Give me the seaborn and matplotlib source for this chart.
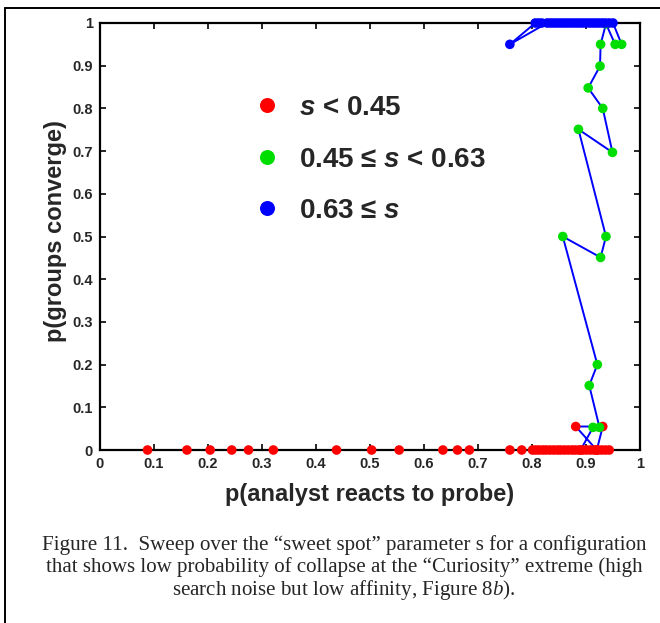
import numpy as np
import pandas as pd
import seaborn as sns
import matplotlib.pyplot as plt
from matplotlib.lines import Line2D

# sweep over s, points in sweep order (low s -> high s)
red_x = [0.088, 0.161, 0.204, 0.244, 0.275, 0.321, 0.438, 0.503, 0.554, 0.635,
         0.662, 0.684, 0.759, 0.781, 0.801, 0.807, 0.813, 0.820, 0.826, 0.833,
         0.840, 0.847, 0.853, 0.860, 0.867, 0.874, 0.880, 0.887, 0.894, 0.901,
         0.908, 0.915, 0.922, 0.929, 0.936, 0.943, 0.920, 0.881, 0.931, 0.920, 0.890]
red_y = [0] * 37 + [0.055, 0.055, 0, 0]

green_x = [0.913, 0.925, 0.906, 0.921, 0.857, 0.927, 0.937, 0.886, 0.949,
           0.931, 0.904, 0.926, 0.927, 0.937, 0.954, 0.966]
green_y = [0.053, 0.053, 0.151, 0.200, 0.500, 0.451, 0.500, 0.751, 0.697,
           0.800, 0.848, 0.899, 0.950, 0.998, 0.950, 0.950]

blue_x = [0.950, 0.943, 0.936, 0.930, 0.924, 0.918, 0.912, 0.906, 0.900, 0.894,
          0.888, 0.882, 0.876, 0.870, 0.864, 0.858, 0.852, 0.846, 0.840, 0.834,
          0.828, 0.759, 0.806, 0.812, 0.818]
blue_y = [1.0] * 21 + [0.95, 1.0, 1.0, 1.0]

groups = ['s < 0.45', '0.45 <= s < 0.63', '0.63 <= s']
legend_labels = [r'$\mathbfit{s}$ < 0.45', r'0.45 ≤ $\mathbfit{s}$ < 0.63', r'0.63 ≤ $\mathbfit{s}$']
colors = ['#ff0000', '#00dd00', '#0000ff']

ticks = [0, 0.1, 0.2, 0.3, 0.4, 0.5, 0.6, 0.7, 0.8, 0.9, 1]
tick_labels = ['0', '0.1', '0.2', '0.3', '0.4', '0.5', '0.6', '0.7', '0.8', '0.9', '1']

caption = ['Figure 11.  Sweep over the \u201csweet spot\u201d parameter s for a configuration',
           'that shows low probability of collapse at the \u201cCuriosity\u201d extreme (high',
           'search noise but low affinity, Figure 8$b$).']

df = pd.DataFrame({
    'x': red_x + green_x + blue_x,
    'y': red_y + green_y + blue_y,
    'group': [groups[0]] * len(red_x) + [groups[1]] * len(green_x) + [groups[2]] * len(blue_x),
})
df['step'] = np.arange(len(df))

sns.set_style('ticks')
plt.rcParams['font.family'] = ['Liberation Sans', 'DejaVu Sans']
plt.rcParams['mathtext.fontset'] = 'custom'
plt.rcParams['mathtext.it'] = 'Liberation Serif:italic'
plt.rcParams['mathtext.rm'] = 'Liberation Sans'
plt.rcParams['mathtext.bfit'] = 'Liberation Sans:italic:bold'

fig = plt.figure(figsize=(6.6, 6.23), dpi=100)
ax = fig.add_axes([100 / 660, 1 - 450 / 623, 540 / 660, 427 / 623])

sns.lineplot(data=df, x='x', y='y', sort=False, estimator=None, color='#0000ff',
             lw=1.4, ax=ax, zorder=2)
sns.scatterplot(data=df, x='x', y='y', hue='group', palette=dict(zip(groups, colors)),
                s=48, linewidth=0, legend=False, ax=ax, zorder=3, clip_on=False)

ax.set_xlim(0, 1)
ax.set_ylim(0, 1)
ax.set_xticks(ticks)
ax.set_xticklabels(tick_labels)
ax.set_yticks(ticks)
ax.set_yticklabels(tick_labels)
ax.tick_params(direction='in', length=4, width=1.4, top=True, right=True,
               labelsize=10.5, pad=5)
for lab in ax.get_xticklabels() + ax.get_yticklabels():
    lab.set_fontweight('bold')
for sp in ax.spines.values():
    sp.set_linewidth(1.6)
    sp.set_color('black')

ax.set_xlabel('p(analyst reacts to probe)', fontsize=17, fontweight='bold')
ax.set_ylabel('p(groups converge)', fontsize=17, fontweight='bold')
ax.xaxis.set_label_coords(0.5, -0.077)
ax.yaxis.set_label_coords(-0.061, 0.513)

handles = [Line2D([], [], ls='none', marker='o', markersize=10.8, color=c, markeredgewidth=0)
           for c in colors]
ax.legend(handles, legend_labels, loc='upper left', bbox_to_anchor=(258.7 / 660, 1 - 95 / 623),
          bbox_transform=fig.transFigure, frameon=False, borderpad=0, borderaxespad=0,
          handlelength=0.6, handletextpad=0.85, labelspacing=0.92,
          prop={'size': 20, 'weight': 'bold'})

for i, line in enumerate(caption):
    fig.text(344 / 660, 1 - (545 + 22.5 * i) / 623, line, ha='center', va='center',
             fontsize=15.1, family=['Liberation Serif', 'DejaVu Serif'])

# figure frame (left and top edges)
fig.add_artist(Line2D([5 / 660, 5 / 660], [0, 1 - 8 / 623], transform=fig.transFigure,
                      color='black', lw=1.4))
fig.add_artist(Line2D([5 / 660, 1], [1 - 8 / 623, 1 - 8 / 623], transform=fig.transFigure,
                      color='black', lw=1.4))

fig.savefig('out.png', dpi=100)
